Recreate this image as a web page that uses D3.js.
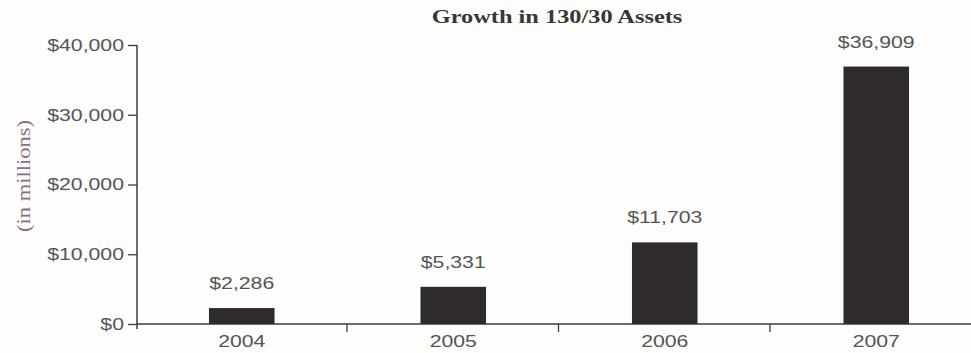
<!DOCTYPE html>
<html>
<head>
<meta charset="utf-8">
<script src="https://cdn.jsdelivr.net/npm/d3@7"></script>
<style>
  body { margin: 0; background: #fdfdfc; }
  svg { display: block; }
</style>
</head>
<body>
<div id="chart"></div>
<script>
// data
const years = ['2004', '2005', '2006', '2007'];
const assets = [2286, 5331, 11703, 36909];
const yTicks = [0, 10000, 20000, 30000, 40000];

const width = 971, height = 353;
// the scan is stretched sideways, so text gets a horizontal scale too
const stretch = 1.25;

const svg = d3.select('#chart').append('svg')
    .attr('width', width)
    .attr('height', height);

const x = d3.scaleBand()
    .domain(years)
    .range([136, 982])
    .paddingInner(0.69)
    .paddingOuter(0.345);

const y = d3.scaleLinear()
    .domain([0, 40000])
    .range([324, 45]);

const money = d => '$' + d3.format(',')(d);

// title
svg.append('text')
    .attr('transform', `translate(557, 23) scale(${stretch}, 1)`)
    .attr('text-anchor', 'middle')
    .attr('font-family', '"Liberation Serif", "Times New Roman", serif')
    .attr('font-weight', 'bold')
    .attr('font-size', '19.5px')
    .attr('fill', '#3a3636')
    .text('Growth in 130/30 Assets');

// y axis label
svg.append('text')
    .attr('transform', 'translate(30, 176) rotate(-90)')
    .attr('text-anchor', 'middle')
    .attr('font-family', '"Liberation Serif", "Times New Roman", serif')
    .attr('font-size', '18px')
    .attr('fill', '#8a6e88')
    .attr('textLength', 112)
    .attr('lengthAdjust', 'spacingAndGlyphs')
    .text('(in millions)');

// y axis
const yAxis = svg.append('g')
    .attr('transform', 'translate(137, 0)')
    .call(d3.axisLeft(y).tickValues(yTicks).tickFormat(money).tickSize(9).tickSizeOuter(0));

yAxis.select('.domain').attr('stroke', '#3e3b3b').attr('stroke-width', 1.5)
    .attr('d', `M0,${y(40000)}V${y(0) + 5}`);
yAxis.selectAll('.tick line').attr('stroke', '#3e3b3b').attr('stroke-width', 1.3);
yAxis.selectAll('.tick text')
    .attr('x', null)
    .attr('transform', `translate(-13, 0) scale(${stretch}, 1)`)
    .attr('font-family', '"Liberation Sans", Arial, sans-serif')
    .attr('font-size', '17px')
    .attr('fill', '#555');

// x axis: baseline plus ticks between categories
const xg = svg.append('g');
xg.append('line')
    .attr('x1', 137).attr('x2', width)
    .attr('y1', y(0)).attr('y2', y(0))
    .attr('stroke', '#3e3b3b')
    .attr('stroke-width', 1.5);

const step = x.step();
xg.selectAll('.sep')
    .data(years.slice(1))
    .join('line')
    .attr('class', 'sep')
    .attr('x1', d => x(d) - x.paddingInner() * step / 2 - 0.5)
    .attr('x2', d => x(d) - x.paddingInner() * step / 2 - 0.5)
    .attr('y1', y(0))
    .attr('y2', y(0) + 8)
    .attr('stroke', '#3e3b3b')
    .attr('stroke-width', 1.3);

xg.selectAll('.year')
    .data(years)
    .join('text')
    .attr('class', 'year')
    .attr('transform', d => `translate(${x(d) + x.bandwidth() / 2}, 347) scale(${stretch}, 1)`)
    .attr('text-anchor', 'middle')
    .attr('font-family', '"Liberation Sans", Arial, sans-serif')
    .attr('font-size', '17px')
    .attr('fill', '#555')
    .text(d => d);

// bars
svg.selectAll('.bar')
    .data(assets)
    .join('rect')
    .attr('class', 'bar')
    .attr('x', (d, i) => x(years[i]))
    .attr('width', x.bandwidth())
    .attr('y', d => y(d))
    .attr('height', d => y(0) - y(d))
    .attr('fill', '#2f2b2b');

// value labels
svg.selectAll('.val')
    .data(assets)
    .join('text')
    .attr('class', 'val')
    .attr('transform', (d, i) => `translate(${x(years[i]) + x.bandwidth() / 2}, ${y(d) - 19}) scale(${stretch}, 1)`)
    .attr('text-anchor', 'middle')
    .attr('font-family', '"Liberation Sans", Arial, sans-serif')
    .attr('font-size', '17px')
    .attr('fill', '#555')
    .text(money);
</script>
</body>
</html>
